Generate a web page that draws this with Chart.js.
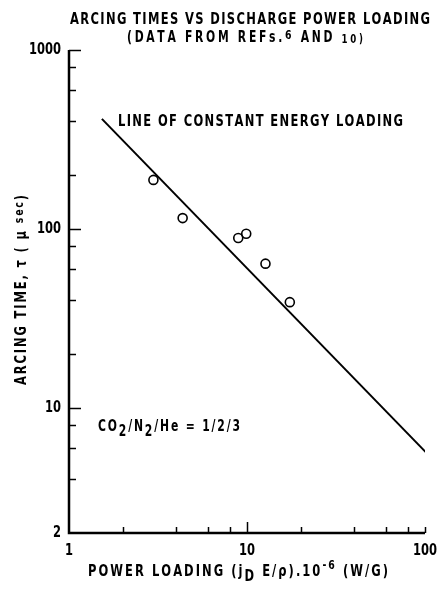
<!DOCTYPE html>
<html lang="en">
<head>
  <meta charset="UTF-8">
  <title>Arcing times vs discharge power loading</title>
  <script src="https://cdn.jsdelivr.net/npm/chart.js"></script>
  <style>
    body, html {
      margin: 0;
      padding: 0;
      background: #fff;
      overflow: hidden;
    }
    .wrap {
      width: 445px;
      height: 593px;
    }
  </style>
</head>
<body>
  <div class="wrap"><canvas id="arcChart" width="445" height="593"></canvas></div>

  <script>
    // measured points (power loading x 1e-6 W/G, arcing time in usec)
    const powerLoading = [2.98, 4.35, 8.93, 9.9, 12.7, 17.4];
    const arcingTime = [188, 115, 89, 94, 64, 39];

    // line of constant energy loading, end points
    const lineX = [1.53, 102];
    const lineY = [412, 5.6];

    // axis ticks
    const xTicks = [2, 4, 6, 8, 10, 20, 40, 60, 80, 100];
    const xMajor = [10];
    const xLabels = ['1', '10', '100'];
    const xLabelValues = [1, 10, 100];
    const yTicks = [4, 6, 8, 10, 20, 40, 60, 80, 100, 200, 400, 600, 800, 1000];
    const yMajor = [10, 100, 1000];
    const yLabels = ['2', '10', '100', '1000'];
    const yLabelValues = [2, 10, 100, 1000];

    const FONT = '"DejaVu Sans Condensed", "DejaVu Sans", sans-serif';
    const fontOf = size => `bold ${size}px ${FONT}`;
    const SQUEEZE = 0.8;

    // width of a run of parts without extra spacing
    function runWidth(ctx, parts) {
      let w = 0, n = 0;
      parts.forEach(p => {
        ctx.font = fontOf(p.size);
        for (const ch of p.t) { w += ctx.measureText(ch).width * SQUEEZE; n++; }
      });
      return { w, n };
    }

    // draw text parts char by char with narrow glyphs, spaced to a target width
    function drawRun(ctx, parts, x, y, target) {
      const { w, n } = runWidth(ctx, parts);
      const sp = target ? (target - w) / (n - 1) : 0;
      let cx = x;
      parts.forEach(p => {
        ctx.font = fontOf(p.size);
        for (const ch of p.t) {
          ctx.save();
          ctx.translate(cx, y + (p.dy || 0));
          ctx.scale(SQUEEZE, 1);
          ctx.fillText(ch, 0, 0);
          ctx.restore();
          cx += ctx.measureText(ch).width * SQUEEZE + sp;
        }
      });
    }

    function drawLabel(ctx, text, x, y, align, size) {
      const parts = [{ t: text, size }];
      const { w } = runWidth(ctx, parts);
      const left = align === 'right' ? x - w : align === 'center' ? x - w / 2 : x;
      drawRun(ctx, parts, left, y);
    }

    const paperPlugin = {
      id: 'paper',
      afterDraw(chart) {
        const ctx = chart.ctx;
        const xs = chart.scales.x, ys = chart.scales.y;
        const a = chart.chartArea;
        ctx.save();
        ctx.fillStyle = '#000';
        ctx.strokeStyle = '#000';
        ctx.textBaseline = 'middle';
        ctx.textAlign = 'left';

        // axes
        ctx.lineWidth = 2.5;
        ctx.beginPath();
        ctx.moveTo(a.left, a.top);
        ctx.lineTo(a.left, a.bottom);
        ctx.lineTo(a.right, a.bottom);
        ctx.stroke();

        // inward ticks
        ctx.lineWidth = 1.5;
        yTicks.forEach(v => {
          const py = Math.round(ys.getPixelForValue(v)) + 0.5;
          const len = yMajor.includes(v) ? 12 : 7;
          ctx.beginPath();
          ctx.moveTo(a.left, py);
          ctx.lineTo(a.left + len, py);
          ctx.stroke();
        });
        xTicks.forEach(v => {
          const px = Math.round(xs.getPixelForValue(v)) + 0.5;
          const len = xMajor.includes(v) ? 11 : 6;
          ctx.beginPath();
          ctx.moveTo(px, a.bottom);
          ctx.lineTo(px, a.bottom - len);
          ctx.stroke();
        });

        // tick labels
        yLabels.forEach((t, i) => {
          drawLabel(ctx, t, a.left - 8, ys.getPixelForValue(yLabelValues[i]), 'right', 16);
        });
        xLabels.forEach((t, i) => {
          drawLabel(ctx, t, xs.getPixelForValue(xLabelValues[i]), a.bottom + 18, 'center', 16);
        });

        // titles and annotations
        drawRun(ctx, [{ t: 'ARCING TIMES VS DISCHARGE POWER LOADING', size: 16 }], 70, 20, 360);
        drawRun(ctx, [
          { t: '(DATA FROM REFs.', size: 15 }, { t: '6', size: 13, dy: -2 },
          { t: ' AND ', size: 15 }, { t: '10)', size: 12, dy: 2 }
        ], 127, 38, 236);
        drawRun(ctx, [{ t: 'LINE OF CONSTANT ENERGY LOADING', size: 16 }], 118, 122, 285);
        drawRun(ctx, [
          { t: 'CO', size: 15 }, { t: '2', size: 15, dy: 5 },
          { t: '/N', size: 15 }, { t: '2', size: 15, dy: 5 },
          { t: '/He = 1/2/3', size: 15 }
        ], 98, 427, 142);
        drawRun(ctx, [
          { t: 'POWER LOADING (j', size: 16 }, { t: 'D', size: 16, dy: 5 },
          { t: ' E/\u03c1).10', size: 16 }, { t: '-6', size: 13, dy: -6 },
          { t: ' (W/G)', size: 16 }
        ], 88, 572, 300);

        // rotated y title
        ctx.translate(22, 290);
        ctx.rotate(-Math.PI / 2);
        drawRun(ctx, [
          { t: 'ARCING TIME, \u03c4 ( \u03bc ', size: 16 },
          { t: 'sec', size: 13, dy: -2 },
          { t: ')', size: 16 }
        ], -95, 0, 190);
        ctx.restore();
      }
    };

    const ctx = document.getElementById('arcChart').getContext('2d');
    new Chart(ctx, {
      type: 'scatter',
      data: {
        datasets: [
          {
            label: 'Measured',
            data: powerLoading.map((x, i) => ({ x, y: arcingTime[i] })),
            pointRadius: 4.5,
            pointBorderWidth: 1.6,
            pointBorderColor: '#000',
            pointBackgroundColor: 'rgba(255,255,255,0)',
            showLine: false
          },
          {
            label: 'Line of constant energy loading',
            data: lineX.map((x, i) => ({ x, y: lineY[i] })),
            showLine: true,
            borderColor: '#000',
            borderWidth: 2,
            pointRadius: 0
          }
        ]
      },
      options: {
        responsive: false,
        animation: false,
        layout: { padding: { left: 69, right: 20, top: 50, bottom: 60 } },
        scales: {
          x: { type: 'logarithmic', min: 1, max: 100, display: false },
          y: { type: 'logarithmic', min: 2, max: 1000, display: false }
        },
        plugins: {
          legend: { display: false },
          tooltip: { enabled: false }
        }
      },
      plugins: [paperPlugin]
    });
  </script>
</body>
</html>
